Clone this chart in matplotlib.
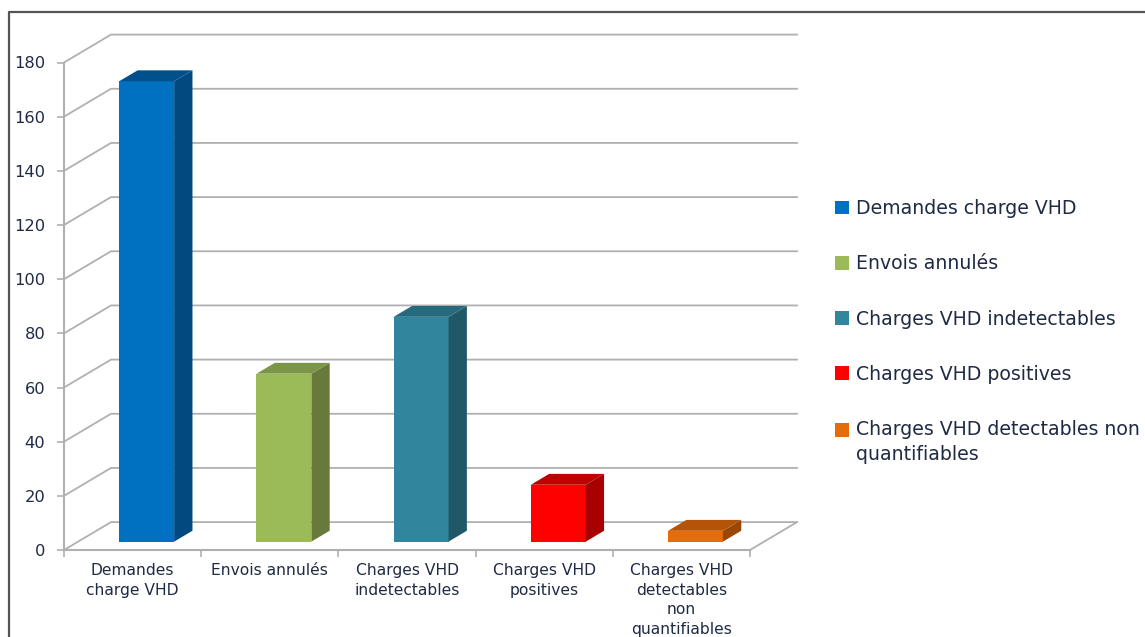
import matplotlib
matplotlib.use("Agg")
import matplotlib.pyplot as plt
from matplotlib.patches import Polygon, Patch
from matplotlib.lines import Line2D

categories = ["Demandes\ncharge VHD", "Envois annulés", "Charges VHD\nindetectables",
              "Charges VHD\npositives", "Charges VHD\ndetectables\nnon\nquantifiables"]
legend_labels = ["Demandes charge VHD", "Envois annulés", "Charges VHD indetectables",
                 "Charges VHD positives", "Charges VHD detectables non\nquantifiables"]
values = [170, 62, 83, 21, 4]
y_ticks = [0, 20, 40, 60, 80, 100, 120, 140, 160, 180]
front_colors = ["#0070C0", "#9BBB59", "#31859C", "#FF0000", "#E46C0A"]
side_colors = ["#004A80", "#677A3B", "#205868", "#A80000", "#974807"]
top_colors = ["#00508C", "#7C9647", "#276A7D", "#C00000", "#B55408"]

W, H = 1145, 637
GREY = "#B0B0B0"
TXT = "#1F2A44"

fig = plt.figure(figsize=(W / 100, H / 100), dpi=100, facecolor="white")
ax = fig.add_axes([64 / W, (H - 550) / H, (750 - 64) / W, (550 - 62.5) / H])
ax.set_xlim(0, 5)
ax.set_ylim(0, 180)
ax.patch.set_visible(False)

# oblique projection of the 3-D chart, expressed in axis units
depth_x, depth_y = 47 / 137.2, 10.3
bar_start, bar_depth = 0.30, 0.39
bar_width = 0.40

# back wall and left wall grid, floor
for t in y_ticks:
    ax.plot([0, depth_x, 5 + depth_x], [t, t + depth_y, t + depth_y],
            color=GREY, lw=1.3, clip_on=False, zorder=1, solid_joinstyle="miter")
ax.plot([5, 5 + depth_x], [0, depth_y], color=GREY, lw=1.3, clip_on=False, zorder=1)

# bars
ox, oy = bar_start * depth_x, bar_start * depth_y
dx, dy = bar_depth * depth_x, bar_depth * depth_y
for i, v in enumerate(values):
    xc = i + 0.5 + ox
    l, r = xc - bar_width / 2, xc + bar_width / 2
    ax.bar(xc, v, width=bar_width, bottom=oy, color=front_colors[i], zorder=3,
           clip_on=False, linewidth=0)
    ax.add_patch(Polygon([(r, oy), (r + dx, oy + dy), (r + dx, oy + v + dy), (r, oy + v)],
                         closed=True, fc=side_colors[i], ec="none", zorder=3, clip_on=False))
    ax.add_patch(Polygon([(l, oy + v), (r, oy + v), (r + dx, oy + v + dy), (l + dx, oy + v + dy)],
                         closed=True, fc=top_colors[i], ec="none", zorder=3, clip_on=False))

for s in ("top", "right"):
    ax.spines[s].set_visible(False)
for s in ("left", "bottom"):
    ax.spines[s].set_color(GREY)
    ax.spines[s].set_linewidth(1.5)

ax.set_yticks(y_ticks)
ax.set_yticklabels([str(t) for t in y_ticks], fontsize=11.7, color=TXT)
ax.tick_params(axis="y", length=5, width=1.2, color=GREY, pad=8.5)
ax.set_xticks(range(6))
ax.set_xticklabels([""] * 6)
ax.tick_params(axis="x", which="major", length=5, width=1.2, color=GREY)
ax.set_xticks([i + 0.5 for i in range(5)], minor=True)
ax.set_xticklabels(categories, minor=True, fontsize=11.2, color=TXT, linespacing=1.38)
ax.tick_params(axis="x", which="minor", length=0, pad=9.5)

# legend
handles = [Patch(fc=c, ec="none") for c in front_colors]
leg = fig.legend(handles, legend_labels, loc="upper left",
                 bbox_to_anchor=(827.5 / W, 1 - 191.5 / H), bbox_transform=fig.transFigure,
                 frameon=False, fontsize=13.6, labelcolor=TXT, labelspacing=1.92,
                 handlelength=0.75, handleheight=0.75, handletextpad=0.37, borderpad=0.4,
                 borderaxespad=0)
for t in leg.get_texts():
    t.set_linespacing(1.38)
# the swatch of the two-line entry sits beside its first line
last = leg.get_patches()[-1]
last.set_y(last.get_y() + 9.0)

# outer frame
fig.add_artist(Line2D([9 / W, 9 / W, 1], [0, 1 - 12 / H, 1 - 12 / H],
                      color="#555555", lw=1.6, transform=fig.transFigure))

fig.savefig("out.png", dpi=100)
